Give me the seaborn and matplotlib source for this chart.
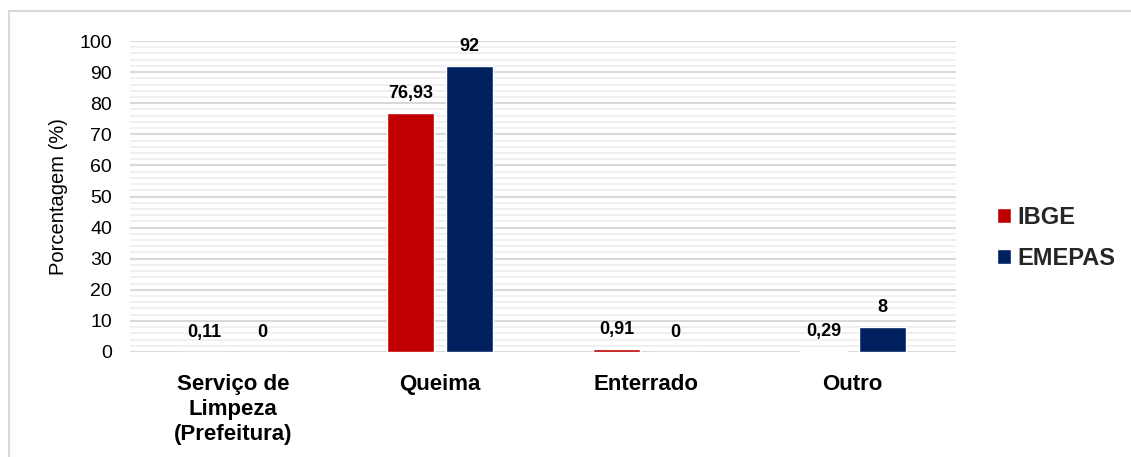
import matplotlib
matplotlib.use("Agg")
import matplotlib.pyplot as plt
from matplotlib.patches import Rectangle
from matplotlib.ticker import MultipleLocator
import seaborn as sns
import pandas as pd

categories = ["Serviço de\nLimpeza\n(Prefeitura)", "Queima", "Enterrado", "Outro"]
ibge = [0.11, 76.93, 0.91, 0.29]
emepas = [0, 92, 0, 8]
series = ["IBGE", "EMEPAS"]
colors = ["#C00000", "#002060"]

df = pd.DataFrame({
    "categoria": categories * 2,
    "valor": ibge + emepas,
    "fonte": [series[0]] * len(categories) + [series[1]] * len(categories),
})

sns.set_theme(style="white")
plt.rcParams["font.family"] = ["Liberation Sans", "DejaVu Sans"]

W, H = 1131, 457
fig = plt.figure(figsize=(W / 100, H / 100), dpi=100)
ax = fig.add_axes([130 / W, (H - 352) / H, 826 / W, 311 / H])

# light frame around the chart area
fig.patches.append(Rectangle((9 / W, -0.05), 1.2, 1 - 11 / H + 0.05,
                             transform=fig.transFigure, fill=False,
                             edgecolor="#d9d9d9", linewidth=1.5, zorder=0))

sns.barplot(data=df, x="categoria", y="valor", hue="fonte", hue_order=series,
            palette=colors, width=0.57, gap=0.2, saturation=1, ax=ax,
            legend=True, zorder=3)

ax.set_ylim(0, 100)
ax.set_xlim(-0.5, len(categories) - 0.5)
ax.yaxis.set_major_locator(MultipleLocator(10))
ax.yaxis.set_minor_locator(MultipleLocator(2))
ax.grid(axis="y", which="major", color="#d9d9d9", linewidth=1.5, zorder=0)
ax.grid(axis="y", which="minor", color="#f0f0f0", linewidth=1.5, zorder=0)
ax.set_axisbelow(True)
for s in ax.spines.values():
    s.set_visible(False)

ax.tick_params(axis="y", which="both", length=0, pad=13, labelsize=14, labelcolor="black")
ax.tick_params(axis="x", length=0, pad=16, labelsize=16, labelcolor="black")
for lbl in ax.get_xticklabels():
    lbl.set_fontweight("bold")
    lbl.set_linespacing(1.25)

ax.set_xlabel("")
ax.set_ylabel("Porcentagem (%)", fontsize=14.5, color="black", labelpad=8)

def fmt(v):
    return f"{v:g}".replace(".", ",")

for cont, vals in zip(ax.containers, [ibge, emepas]):
    ax.bar_label(cont, labels=[fmt(v) for v in vals], padding=8,
                 fontsize=13, fontweight="bold", color="black")

leg = ax.legend(loc="center left", bbox_to_anchor=(997 / W, 1 - 238 / H),
                bbox_transform=fig.transFigure, frameon=False, borderpad=0,
                borderaxespad=0, prop={"size": 17, "weight": "bold"},
                handlelength=0.6, handleheight=0.6, handletextpad=0.25,
                labelspacing=0.75)

fig.savefig("out.png", dpi=100)
